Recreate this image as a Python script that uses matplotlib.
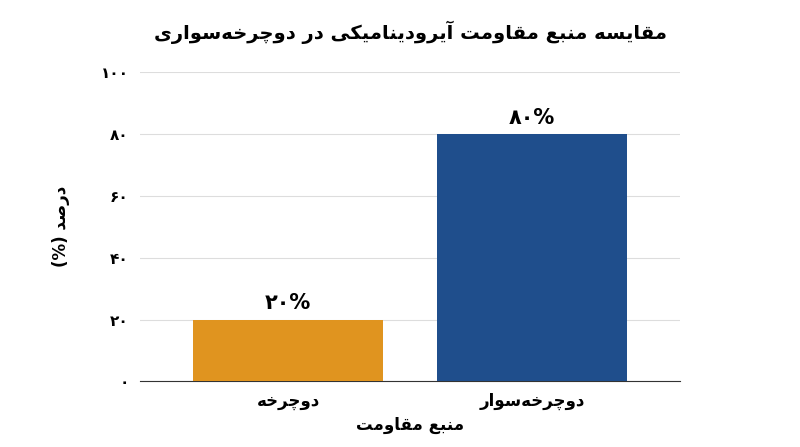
import matplotlib
matplotlib.use("Agg")
from matplotlib import pyplot as plt

# Persian letter forms: isolated, final, initial, medial (None = does not join to the next letter)
FORMS = {
    "ا": ("\uFE8D", "\uFE8E", None, None),
    "آ": ("\uFE81", "\uFE82", None, None),
    "ب": ("\uFE8F", "\uFE90", "\uFE91", "\uFE92"),
    "ت": ("\uFE95", "\uFE96", "\uFE97", "\uFE98"),
    "چ": ("\uFB7A", "\uFB7B", "\uFB7C", "\uFB7D"),
    "خ": ("\uFEA5", "\uFEA6", "\uFEA7", "\uFEA8"),
    "د": ("\uFEA9", "\uFEAA", None, None),
    "ر": ("\uFEAD", "\uFEAE", None, None),
    "س": ("\uFEB1", "\uFEB2", "\uFEB3", "\uFEB4"),
    "ص": ("\uFEB9", "\uFEBA", "\uFEBB", "\uFEBC"),
    "ع": ("\uFEC9", "\uFECA", "\uFECB", "\uFECC"),
    "ق": ("\uFED5", "\uFED6", "\uFED7", "\uFED8"),
    "ک": ("\uFB8E", "\uFB8F", "\uFB90", "\uFB91"),
    "م": ("\uFEE1", "\uFEE2", "\uFEE3", "\uFEE4"),
    "ن": ("\uFEE5", "\uFEE6", "\uFEE7", "\uFEE8"),
    "ه": ("\uFEE9", "\uFEEA", "\uFEEB", "\uFEEC"),
    "و": ("\uFEED", "\uFEEE", None, None),
    "ی": ("\uFBFC", "\uFBFD", "\uFBFE", "\uFBFF"),
}
MIRROR = {"(": ")", ")": "("}


def fa(text):
    out = []
    n = len(text)
    for i, ch in enumerate(text):
        if ch == "\u200c":
            continue
        if ch not in FORMS:
            out.append(MIRROR.get(ch, ch))
            continue
        prev = text[i - 1] if i > 0 else ""
        nxt = text[i + 1] if i + 1 < n else ""
        join_prev = prev in FORMS and FORMS[prev][2] is not None
        join_next = nxt in FORMS and FORMS[ch][2] is not None
        iso, fin, ini, med = FORMS[ch]
        if join_prev and join_next:
            out.append(med)
        elif join_prev:
            out.append(fin)
        elif join_next:
            out.append(ini)
        else:
            out.append(iso)
    return "".join(reversed(out))


categories = ["دوچرخه", "دوچرخه\u200cسوار"]
values = [20, 80]
value_labels = ["۲۰%", "۸۰%"]
colors = ["#E0941F", "#1F4E8C"]
yticks = [0, 20, 40, 60, 80, 100]
ytick_labels = ["۰", "۲۰", "۴۰", "۶۰", "۸۰", "۱۰۰"]
title = "مقایسه منبع مقاومت آیرودینامیکی در دوچرخه\u200cسواری"
xlabel = "منبع مقاومت"
ylabel = "درصد (%)"

plt.rcParams["font.family"] = ["DejaVu Sans"]

fig, ax = plt.subplots(figsize=(8, 4.47), dpi=100)
fig.subplots_adjust(left=0.175, right=0.85, top=0.838, bottom=0.147)

x = list(range(len(categories)))
ax.bar(x, values, width=0.78, color=colors, zorder=3)
for xi, v, lab in zip(x, values, value_labels):
    ax.text(xi, v + 2, lab, ha="center", va="bottom", fontsize=15, fontweight="bold")

ax.set_xlim(-0.607, 1.607)
ax.set_ylim(0, 100)
ax.set_yticks(yticks)
ax.set_yticklabels(ytick_labels, fontsize=11, fontweight="bold")
ax.set_xticks(x)
ax.set_xticklabels([fa(c) for c in categories], fontsize=12, fontweight="bold")
ax.grid(axis="y", color="#dddddd", linewidth=0.8, zorder=0)
for s in ["top", "right", "left"]:
    ax.spines[s].set_visible(False)
ax.spines["bottom"].set_color("#333333")
ax.tick_params(axis="both", length=0, pad=8)

ax.set_xlabel(fa(xlabel), fontsize=12, fontweight="bold", labelpad=4)
ax.set_ylabel(fa(ylabel), fontsize=12, fontweight="bold", labelpad=22)
ax.set_title(fa(title), fontsize=14, fontweight="bold", pad=24)

fig.savefig("out.png", dpi=100)
